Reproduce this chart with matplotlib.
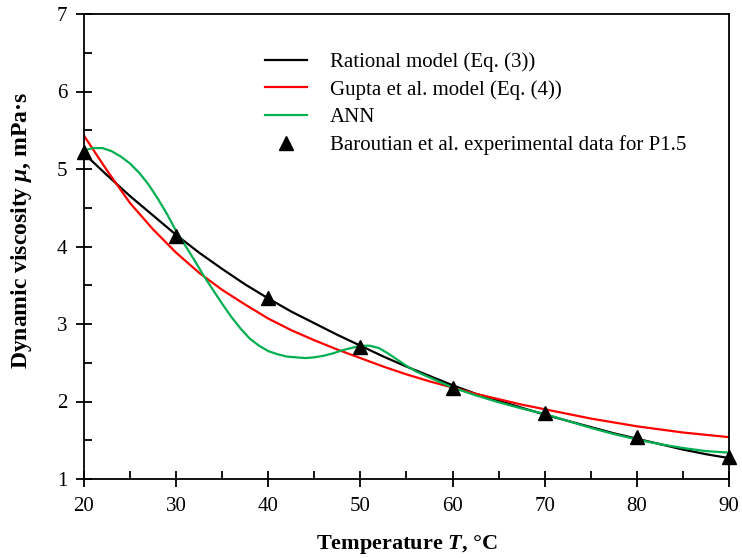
import matplotlib
matplotlib.use("Agg")
import matplotlib.pyplot as plt
from matplotlib.ticker import MultipleLocator

plt.rcParams['font.family'] = ['Liberation Serif', 'DejaVu Serif']
plt.rcParams['mathtext.fontset'] = 'custom'
plt.rcParams['mathtext.it'] = 'Liberation Serif:italic:bold'
plt.rcParams['mathtext.rm'] = 'Liberation Serif:bold'

# experimental points (Baroutian et al., P1.5)
t_exp = [20, 30, 40, 50, 60, 70, 80, 90]
mu_exp = [5.22, 4.13, 3.34, 2.70, 2.17, 1.85, 1.54, 1.28]

# rational model (Eq. 3)
t_rat = [20, 22.5, 25, 27.5, 30, 32.5, 35, 37.5, 40, 42.5, 45, 47.5, 50, 52.5, 55,
         57.5, 60, 62.5, 65, 67.5, 70, 72.5, 75, 77.5, 80, 82.5, 85, 87.5, 90]
mu_rat = [5.20, 4.92, 4.65, 4.40, 4.15, 3.92, 3.71, 3.51, 3.33, 3.16, 3.01, 2.86, 2.72, 2.58, 2.45,
          2.33, 2.21, 2.10, 2.01, 1.92, 1.83, 1.75, 1.67, 1.59, 1.52, 1.45, 1.38, 1.32, 1.27]

# Gupta et al. model (Eq. 4)
t_gup = t_rat
mu_gup = [5.43, 4.98, 4.56, 4.22, 3.92, 3.66, 3.44, 3.25, 3.07, 2.92, 2.79, 2.67, 2.56, 2.45, 2.35,
          2.26, 2.18, 2.10, 2.03, 1.96, 1.90, 1.84, 1.78, 1.73, 1.68, 1.64, 1.60, 1.57, 1.54]

# ANN
t_ann = [20, 21, 22, 23, 24, 25, 26, 27, 28, 29, 30, 31, 32, 33, 34, 35, 36, 37, 38,
         39, 40, 41, 42, 43, 44, 45, 46, 47, 48, 49, 50, 51, 52, 53, 54, 55, 56,
         57.5, 60, 62.5, 65, 67.5, 70, 72.5, 75, 77.5, 80, 82.5, 85, 87.5, 90]
mu_ann = [5.24, 5.27, 5.27, 5.23, 5.16, 5.07, 4.95, 4.80, 4.62, 4.42, 4.20, 4.01, 3.82, 3.62, 3.44, 3.26, 3.09, 2.94, 2.81,
          2.72, 2.65, 2.61, 2.58, 2.57, 2.56, 2.57, 2.59, 2.62, 2.66, 2.69, 2.72, 2.72, 2.69, 2.62, 2.54, 2.46, 2.39,
          2.31, 2.18, 2.08, 1.99, 1.91, 1.84, 1.75, 1.66, 1.58, 1.51, 1.45, 1.40, 1.36, 1.34]

fig = plt.figure(figsize=(7.42, 5.58), dpi=100)
ax = fig.add_axes([84 / 742, 1 - 479 / 558, 645 / 742, 465 / 558])

ax.plot(t_rat, mu_rat, color='black', lw=1.6, label='Rational model (Eq. (3))')
ax.plot(t_gup, mu_gup, color='#ff0000', lw=1.6, label='Gupta et al. model (Eq. (4))')
ax.plot(t_ann, mu_ann, color='#00b050', lw=1.6, label='ANN')
ax.plot(t_exp, mu_exp, ls='none', marker='^', color='black', ms=10, clip_on=False, zorder=5,
        label='Baroutian et al. experimental data for P1.5')

ax.set_xlim(20, 90)
ax.set_ylim(1, 7)
ax.xaxis.set_major_locator(MultipleLocator(10))
ax.xaxis.set_minor_locator(MultipleLocator(5))
ax.yaxis.set_major_locator(MultipleLocator(1))
ax.yaxis.set_minor_locator(MultipleLocator(0.5))
ax.tick_params(which='major', direction='inout', length=12, width=1.3, labelsize=15)
ax.tick_params(axis='x', which='major', pad=7)
ax.tick_params(axis='y', which='major', pad=6)
ax.tick_params(which='minor', direction='in', length=6, width=1.3)
for s in ax.spines.values():
    s.set_linewidth(1.3)

ax.set_xlabel(r'Temperature $T$, °C', fontsize=16, fontweight='bold', labelpad=12)
ax.set_ylabel(r'Dynamic viscosity $\mu$, mPa·s', fontsize=17, fontweight='bold')
ax.yaxis.set_label_coords(-50 / 645, 0.535)

ax.legend(loc='upper left', bbox_to_anchor=(257 / 742, 1 - 44 / 558), bbox_transform=fig.transFigure,
          frameon=False, fontsize=15, handlelength=2.0, handletextpad=1.1, labelspacing=0.38,
          borderaxespad=0)

fig.savefig('out.png', dpi=100)
